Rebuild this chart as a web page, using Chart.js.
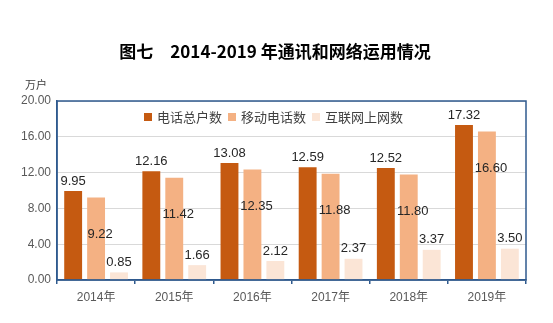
<!DOCTYPE html>
<html>
<head>
<meta charset="utf-8">
<script src="https://cdn.jsdelivr.net/npm/chart.js@4.4.0/dist/chart.umd.min.js"></script>
<style>
  body { margin: 0; background: #fff; }
  #wrap { width: 553px; height: 323px; }
</style>
</head>
<body>
<div id="wrap"><canvas id="myChart"></canvas></div>
<script>
var years = ['2014年', '2015年', '2016年', '2017年', '2018年', '2019年'];
var phoneTotal = [9.95, 12.16, 13.08, 12.59, 12.52, 17.32];
var mobilePhone = [9.22, 11.42, 12.35, 11.88, 11.80, 16.60];
var internetUsers = [0.85, 1.66, 2.12, 2.37, 3.37, 3.50];
var seriesNames = ['电话总户数', '移动电话数', '互联网上网数'];
var yTicks = [0, 4, 8, 12, 16, 20];

var CJK = '"Noto Sans CJK SC", sans-serif';
var NUM = '"Liberation Sans", "Noto Sans CJK SC", sans-serif';
var blue = '#2F5A8E';

// title, unit, legend, frame and value labels
var extras = {
    id: 'extras',
    afterDatasetsDraw: function (chart) {
        var ctx = chart.ctx;
        var area = chart.chartArea;
        ctx.save();

        // frame round the plot area
        ctx.strokeStyle = blue;
        ctx.lineWidth = 1.5;
        ctx.strokeRect(area.left, area.top, area.right - area.left, area.bottom - area.top);

        // title
        ctx.fillStyle = '#000';
        ctx.font = 'bold 17px ' + CJK;
        ctx.textAlign = 'center';
        ctx.textBaseline = 'middle';
        ctx.fillText('图七　2014-2019 年通讯和网络运用情况', 275, 52);

        // unit
        ctx.fillStyle = '#404040';
        ctx.font = '11px ' + CJK;
        ctx.fillText('万户', 36, 85);

        // legend
        var x = 144;
        ctx.font = '13px ' + CJK;
        ctx.textAlign = 'left';
        chart.data.datasets.forEach(function (ds) {
            ctx.fillStyle = ds.backgroundColor;
            ctx.fillRect(x, 113, 8, 8);
            ctx.fillStyle = '#404040';
            ctx.fillText(ds.label, x + 13, 117);
            x += 13 + ctx.measureText(ds.label).width + 6;
        });

        // value labels
        ctx.font = '13px ' + NUM;
        ctx.textAlign = 'center';
        ctx.fillStyle = '#262626';
        chart.data.datasets.forEach(function (ds, i) {
            chart.getDatasetMeta(i).data.forEach(function (bar, j) {
                var txt = ds.data[j].toFixed(2);
                if (i === 1) {
                    ctx.fillText(txt, bar.x + 4, bar.y + 37);
                } else {
                    ctx.fillText(txt, bar.x, bar.y - 10);
                }
            });
        });
        ctx.restore();
    }
};

function drawChart()
{
    var ctx = document.getElementById('myChart').getContext('2d');
    var chart = new Chart(ctx, {
        type: 'bar',
        data: {
            labels: years,
            datasets: [{
                label: seriesNames[0],
                data: phoneTotal,
                backgroundColor: '#C55A11'
            }, {
                label: seriesNames[1],
                data: mobilePhone,
                backgroundColor: '#F4B183'
            }, {
                label: seriesNames[2],
                data: internetUsers,
                backgroundColor: '#FBE5D6'
            }]
        },
        options: {
            responsive: true,
            maintainAspectRatio: false,
            animation: false,
            layout: { padding: { top: 101, right: 27, left: 0, bottom: 0 } },
            datasets: {
                bar: { categoryPercentage: 0.88, barPercentage: 0.78 }
            },
            plugins: {
                legend: { display: false },
                title: { display: false },
                tooltip: { enabled: false }
            },
            scales: {
                x: {
                    afterFit: function (s) { s.height = 43; },
                    grid: {
                        offset: true,
                        drawOnChartArea: false,
                        color: blue,
                        tickLength: 4,
                        lineWidth: 1.5
                    },
                    border: { color: blue, width: 1.5 },
                    ticks: {
                        color: '#595959',
                        font: { size: 12, family: NUM },
                        padding: 6
                    }
                },
                y: {
                    min: 0,
                    max: 20,
                    afterFit: function (s) { s.width = 57; },
                    afterBuildTicks: function (s) {
                        s.ticks = yTicks.map(function (v) { return { value: v }; });
                    },
                    grid: { color: '#D9D9D9', drawTicks: false },
                    border: { color: blue, width: 1.5 },
                    ticks: {
                        color: '#595959',
                        font: { size: 12, family: NUM },
                        padding: 6,
                        callback: function (v) { return Number(v).toFixed(2); }
                    }
                }
            }
        },
        plugins: [extras]
    });
}
drawChart();
</script>
</body>
</html>
